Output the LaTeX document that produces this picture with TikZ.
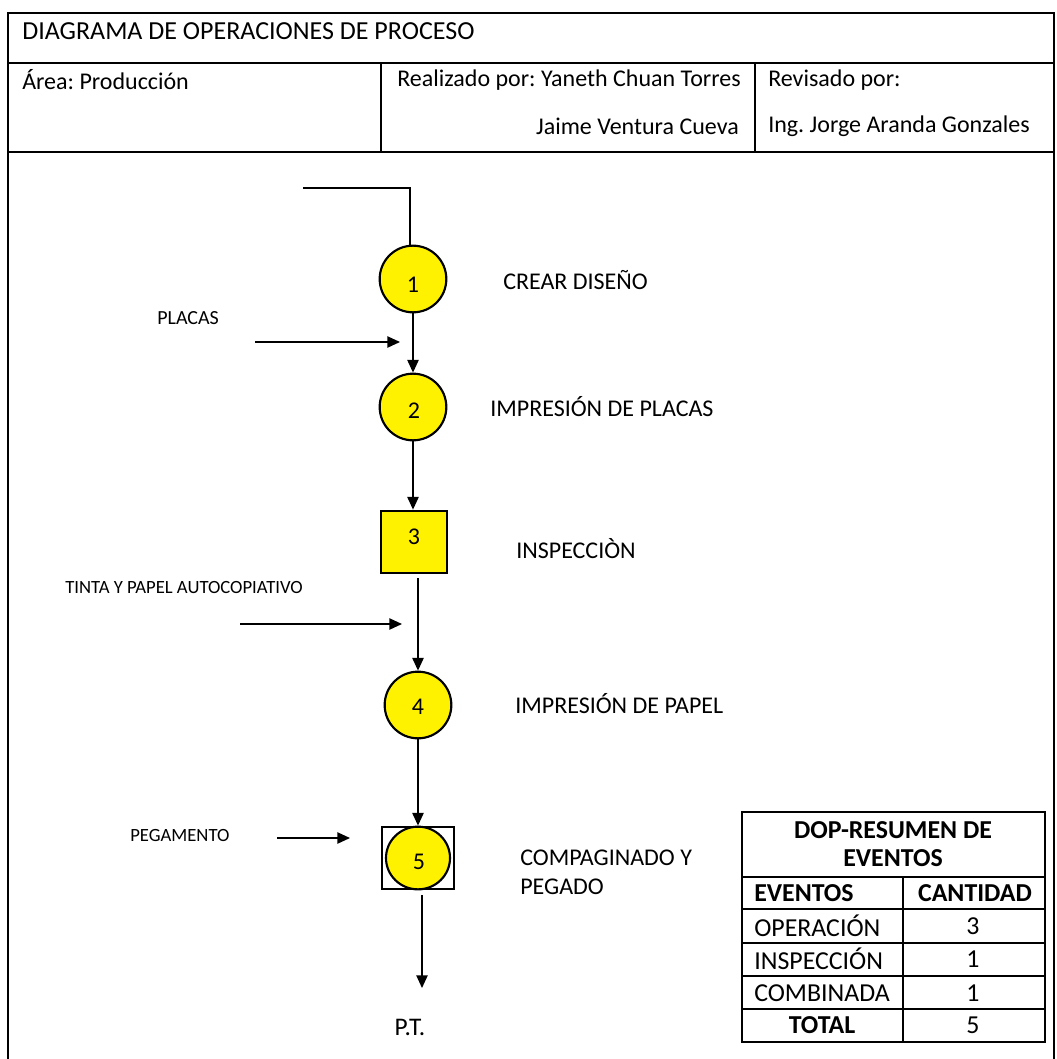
\documentclass[tikz,border=0pt]{standalone}
\usepackage{fontspec}
\setmainfont{Carlito}
\usetikzlibrary{arrows.meta,shapes.geometric}
\frenchspacing
\begin{document}
\begin{tikzpicture}[x=0.75pt,y=-0.75pt,
  frame/.style={line width=0.9pt},
  conn/.style={line width=1pt},
  arr/.style={conn,-{Triangle[length=9.5pt,width=8.5pt]}},
  txt/.style={inner sep=0pt,font=\fontsize{18}{21}\selectfont},
  small/.style={inner sep=0pt,font=\fontsize{14}{16}\selectfont},
  opnode/.style={ellipse,draw,line width=1.6pt,fill=yellow,minimum width=50pt,minimum height=50pt,inner sep=0pt},
  inspnode/.style={rectangle,draw,line width=1.6pt,fill=yellow,minimum width=50pt,minimum height=47pt,inner sep=0pt},
  combbox/.style={rectangle,draw,line width=1.6pt,minimum width=54pt,minimum height=47pt,inner sep=0pt},
  cell/.style={inner sep=0pt,font=\fontsize{19.4}{22}\selectfont},
  bcell/.style={cell,font=\fontsize{19.4}{22}\selectfont\bfseries}
]
\useasboundingbox (0,0) rectangle (1056,1059);

% outer frame and header grid
\draw[frame] (8,1059) -- (8,13) -- (1054,13) -- (1054,1059);
\draw[frame] (8,63) -- (1054,63);
\draw[frame] (8,152) -- (1054,152);
\draw[frame] (381,63) -- (381,152);
\draw[frame] (755,63) -- (755,152);

\node[txt,anchor=west,font=\fontsize{19.5}{22}\selectfont] (title) at (22,31) {DIAGRAMA DE OPERACIONES DE PROCESO};
\node[txt,anchor=west] (area) at (22,80) {Área: Producción};
\node[txt,anchor=east] (real1) at (741,80) {Realizado por: Yaneth Chuan Torres};
\node[txt,anchor=east] (real2) at (739,126) {Jaime Ventura Cueva};
\node[txt,anchor=west] (rev1) at (768,80) {Revisado por:};
\node[txt,anchor=west] (rev2) at (768,126) {Ing. Jorge Aranda Gonzales};

% process symbols
\node[opnode] (op1) at (413,279) {};
\node[opnode] (op2) at (413,407) {};
\node[inspnode] (in3) at (414,542) {};
\node[opnode] (op4) at (418,705) {};
\node[combbox] (cb5) at (418,858) {};
\node[opnode,minimum width=48pt,minimum height=47pt] (op5) at (418,858) {};

% step numbers
\node[txt] (n1) at (413,285) {1};
\node[txt] (n2) at (414,411) {2};
\node[txt] (n3) at (414,537) {3};
\node[txt] (n4) at (418,707) {4};
\node[txt] (n5) at (419,862) {5};

% step descriptions
\node[txt,anchor=west] (d1) at (503,280) {CREAR DISEÑO};
\node[txt,anchor=west] (d2) at (490,407) {IMPRESIÓN DE PLACAS};
\node[txt,anchor=west] (d3) at (516,549) {INSPECCIÒN};
\node[txt,anchor=west] (d4) at (515,704) {IMPRESIÓN DE PAPEL};
\node[txt,anchor=west] (d5a) at (520,858) {COMPAGINADO Y};
\node[txt,anchor=west] (d5b) at (520,887) {PEGADO};

% material inputs
\node[small,anchor=west,font=\fontsize{15}{17}\selectfont] (m1) at (157,318) {PLACAS};
\node[small,anchor=west] (m2) at (65,588) {TINTA Y PAPEL AUTOCOPIATIVO};
\node[small,anchor=west] (m3) at (130,835) {PEGAMENTO};
\node[txt,font=\fontsize{19}{22}\selectfont] (pt) at (410,1027) {P.T.};

% connector ends
\coordinate (s0) at (303,188);
\coordinate (s1) at (410,188);
\coordinate (a1) at (255,342);
\coordinate (b1) at (400,342);
\coordinate (a2) at (240,624);
\coordinate (b2) at (402,624);
\coordinate (a3) at (277,838);
\coordinate (b3) at (350,838);
\coordinate (t3) at (418,578);
\coordinate (t5) at (422,895);
\coordinate (e5) at (422,988);

% flow lines
\draw[conn] (s0) -- (s1) -- (op1.north -| s1);
\draw[arr] (op1.south) -- (op2.north);
\draw[arr] (op2.south) -- (in3.north -| op2);
\draw[arr] (t3) -- (op4.north);
\draw[arr] (op4.south) -- (cb5.north);
\draw[arr] (t5) -- (e5);
\draw[arr] (a1) -- (b1);
\draw[arr] (a2) -- (b2);
\draw[arr] (a3) -- (b3);

% summary table
\draw[frame] (742,812) rectangle (1045,1042);
\foreach \yy in {877,909,943,976,1009} \draw[frame] (742,\yy) -- (1045,\yy);
\draw[frame] (903,877) -- (903,1042);
\node[bcell] (th1) at (893,830) {DOP-RESUMEN DE};
\node[bcell] (th2) at (893,858) {EVENTOS};
\node[bcell,anchor=west] (h1) at (754,893) {EVENTOS};
\node[bcell] (h2) at (975,893) {CANTIDAD};
\node[cell,anchor=west] (r1) at (754,926) {OPERACIÓN};
\node[cell] (v1) at (973,926) {3};
\node[cell,anchor=west] (r2) at (754,959) {INSPECCIÓN};
\node[cell] (v2) at (973,959) {1};
\node[cell,anchor=west] (r3) at (754,993) {COMBINADA};
\node[cell] (v3) at (973,993) {1};
\node[bcell] (r4) at (822,1025) {TOTAL};
\node[cell] (v4) at (973,1025) {5};
\end{tikzpicture}
\end{document}
